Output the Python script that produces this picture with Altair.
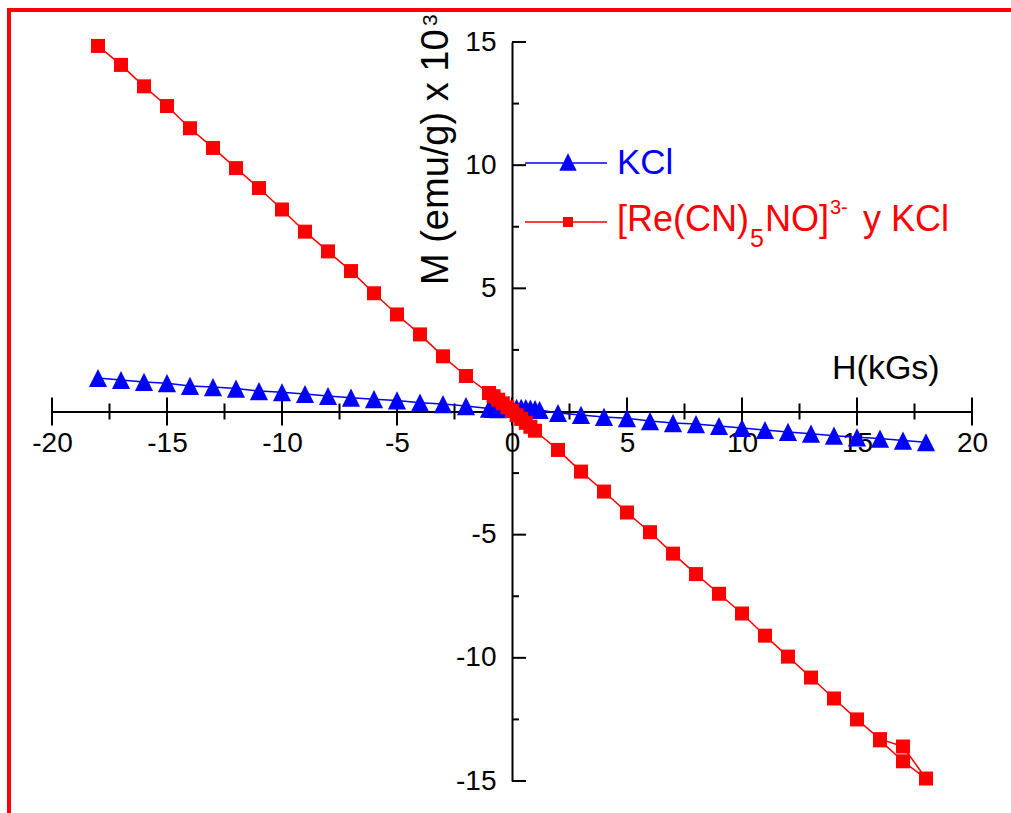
import altair as alt
import pandas as pd

# ---------------- data ----------------
H_kcl = [-18, -17, -16, -15, -14, -13, -12, -11, -10, -9, -8, -7, -6, -5, -4, -3, -2, -1,
         -0.8, -0.6, -0.4, -0.2, 0.0, 0.2, 0.4, 0.6, 0.8, 1.0, 1.2,
         2, 3, 4, 5, 6, 7, 8, 9, 10, 11, 12, 13, 14, 15, 16, 17, 18]
M_kcl = [1.36, 1.28, 1.20, 1.15, 1.04, 0.99, 0.93, 0.83, 0.78, 0.71, 0.63, 0.56, 0.50, 0.45, 0.36, 0.30, 0.22, 0.12,
         0.10, 0.09, 0.10, 0.12, 0.14, 0.15, 0.15, 0.14, 0.12, 0.10, 0.06,
         -0.06, -0.14, -0.22, -0.27, -0.39, -0.47, -0.51, -0.59, -0.67, -0.75, -0.83, -0.90, -0.98, -1.05, -1.10, -1.18, -1.25]

H_re = [-18, -17, -16, -15, -14, -13, -12, -11, -10, -9, -8, -7, -6, -5, -4, -3, -2,
        -1.0, -0.8, -0.6, -0.4, -0.2, 0.0, 0.2, 0.4, 0.6, 0.8, 1.0,
        2, 3, 4, 5, 6, 7, 8, 9, 10, 11, 12, 13, 14, 15, 16, 17, 18, 17, 16]
M_re = [14.84, 14.07, 13.20, 12.40, 11.50, 10.70, 9.88, 9.07, 8.20, 7.30, 6.50, 5.70, 4.80, 3.94, 3.13, 2.24, 1.44,
        0.75, 0.62, 0.48, 0.33, 0.17, 0.02, -0.15, -0.30, -0.46, -0.62, -0.78,
        -1.56, -2.44, -3.25, -4.10, -4.90, -5.77, -6.60, -7.40, -8.20, -9.10, -9.95, -10.80, -11.65, -12.50,
        -13.30, -13.60, -14.90, -14.20, -13.35]

x_major = [-20, -15, -10, -5, 0, 5, 10, 15, 20]
x_minor = [-17.5, -12.5, -7.5, -2.5, 2.5, 7.5, 12.5, 17.5]
y_major = [-15, -10, -5, 0, 5, 10, 15]
y_minor = [-12.5, -7.5, -2.5, 2.5, 7.5, 12.5]
y_labels = [-15, -10, -5, 5, 10, 15]

series_kcl = "KCl"
legend_re_parts = ["[Re(CN)", "5", "NO]", "3-", "y KCl"]
x_title = "H(kGs)"
y_title = "M (emu/g) x 10"
y_title_sup = "3"

W, H = 920, 739
FONT = "Liberation Sans"
BLUE = "#0000FF"
RED = "#FF0000"
TRI = "M-1,1L0,-1L1,1Z"

df_kcl = pd.DataFrame({"H": H_kcl, "M": M_kcl, "i": list(range(len(H_kcl)))})
df_re = pd.DataFrame({"H": H_re, "M": M_re, "i": list(range(len(H_re)))})

xs = alt.Scale(domain=[-20, 20], nice=False, zero=False)
ys = alt.Scale(domain=[-15, 15], nice=False, zero=False)

xaxis = alt.Axis(orient="bottom", offset=-H / 2, values=x_major, ticks=False, grid=False,
                 domain=True, domainColor="black", domainWidth=2,
                 labelFont=FONT, labelFontSize=28, labelColor="black", labelPadding=18,
                 labelFlush=False, labelOverlap=False, labelExpr="'' + datum.value", title=None)
yaxis = alt.Axis(orient="left", offset=-W / 2, values=y_labels, ticks=False, grid=False,
                 domain=True, domainColor="black", domainWidth=2,
                 labelFont=FONT, labelFontSize=28, labelColor="black", labelPadding=16,
                 labelOverlap=False, labelExpr="'' + datum.value", title=None)


def enc(chart, xf="H:Q", yf="M:Q"):
    return chart.encode(x=alt.X(xf, scale=xs, axis=xaxis), y=alt.Y(yf, scale=ys, axis=yaxis))


# ticks
df_xmaj = pd.DataFrame({"v": x_major, "z": [0] * len(x_major)})
df_xmin = pd.DataFrame({"v": x_minor, "z": [0] * len(x_minor)})
df_ymaj = pd.DataFrame({"v": y_major, "z": [0] * len(y_major)})
df_ymin = pd.DataFrame({"v": y_minor, "z": [0] * len(y_minor)})

xt_major = enc(alt.Chart(df_xmaj).mark_tick(orient="vertical", size=28, thickness=2, color="black", opacity=1), "v:Q", "z:Q")
xt_minor = enc(alt.Chart(df_xmin).mark_tick(orient="vertical", size=16, thickness=2, color="black", opacity=1), "v:Q", "z:Q")
yt_major = enc(alt.Chart(df_ymaj).mark_tick(orient="horizontal", size=14, thickness=2, color="black", opacity=1, xOffset=7), "z:Q", "v:Q")
yt_minor = enc(alt.Chart(df_ymin).mark_tick(orient="horizontal", size=7, thickness=2, color="black", opacity=1, xOffset=3.5), "z:Q", "v:Q")

# series
kcl_line = enc(alt.Chart(df_kcl).mark_line(color=BLUE, strokeWidth=1.5)).encode(order="i:Q")
kcl_pts = enc(alt.Chart(df_kcl).mark_point(shape=TRI, size=330, filled=True, color=BLUE, opacity=1))
re_line = enc(alt.Chart(df_re).mark_line(color=RED, strokeWidth=1.5)).encode(order="i:Q")
re_pts = enc(alt.Chart(df_re).mark_point(shape="square", size=196, filled=True, color=RED, opacity=1))

one = pd.DataFrame({"a": [0]})

# legend
leg_l1 = alt.Chart(one).mark_rule(color=BLUE, strokeWidth=1.5).encode(
    x=alt.value(525 - 52), x2=alt.value(607 - 52), y=alt.value(163 - 42))
leg_p1 = alt.Chart(one).mark_point(shape=TRI, size=300, filled=True, color=BLUE, opacity=1).encode(
    x=alt.value(568 - 52), y=alt.value(162 - 42))
leg_t1 = alt.Chart(pd.DataFrame({"t": [series_kcl]})).mark_text(
    font=FONT, fontSize=35, color=BLUE, align="left", baseline="alphabetic").encode(
    x=alt.value(617 - 52), y=alt.value(174 - 42), text="t:N")

leg_l2 = alt.Chart(one).mark_rule(color=RED, strokeWidth=1.5).encode(
    x=alt.value(525 - 52), x2=alt.value(607 - 52), y=alt.value(222 - 42))
leg_p2 = alt.Chart(one).mark_point(shape="square", size=100, filled=True, color=RED, opacity=1).encode(
    x=alt.value(568 - 52), y=alt.value(222 - 42))

re_pos = [(617, 231, 36), (750, 247, 25), (765, 231, 36), (830, 214, 20), (863, 231, 36)]
leg_t2 = []
for txt, (px, py, fs) in zip(legend_re_parts, re_pos):
    leg_t2.append(alt.Chart(pd.DataFrame({"t": [txt]})).mark_text(
        font=FONT, fontSize=fs, color=RED, align="left", baseline="alphabetic").encode(
        x=alt.value(px - 52), y=alt.value(py - 42), text="t:N"))

# axis titles
xt = alt.Chart(pd.DataFrame({"t": [x_title]})).mark_text(
    font=FONT, fontSize=34, color="black", align="left", baseline="alphabetic").encode(
    x=alt.value(832 - 52), y=alt.value(379 - 42), text="t:N")
yt = alt.Chart(pd.DataFrame({"t": [y_title]})).mark_text(
    font=FONT, fontSize=38, color="black", align="left", baseline="alphabetic", angle=270).encode(
    x=alt.value(448 - 52), y=alt.value(285 - 42), text="t:N")
yt_sup = alt.Chart(pd.DataFrame({"t": [y_title_sup]})).mark_text(
    font=FONT, fontSize=21, color="black", align="left", baseline="alphabetic", angle=270).encode(
    x=alt.value(437 - 52), y=alt.value(26 - 42), text="t:N")

# frame
frame = alt.Chart(one).mark_rect(fill="white", fillOpacity=0, stroke=RED, strokeWidth=4).encode(
    x=alt.value(9 - 52), y=alt.value(10 - 42), x2=alt.value(1100 - 52), y2=alt.value(900 - 42))

chart = alt.layer(
    frame, xt_major, xt_minor, yt_major, yt_minor,
    kcl_line, kcl_pts, re_line, re_pts,
    leg_l1, leg_p1, leg_t1, leg_l2, leg_p2, *leg_t2,
    xt, yt, yt_sup,
).properties(
    width=W, height=H,
    autosize=alt.AutoSizeParams(type="none"),
    padding={"left": 52, "top": 42, "right": 39, "bottom": 32},
    background="white",
).configure_view(stroke=None)

chart.save("out.html", embed_options={"renderer": "svg", "actions": False})
